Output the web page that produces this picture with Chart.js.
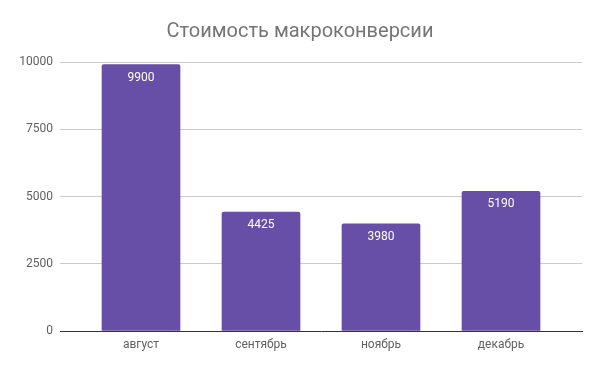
<!DOCTYPE html>
<html>
<head>
<meta charset="utf-8">
<script src="https://cdn.jsdelivr.net/npm/chart.js@4"></script>
<style>
    html, body { margin: 0; padding: 0; background: #ffffff; }
    #wrap { width: 600px; height: 371px; }
</style>
</head>
<body>
<div id="wrap"><canvas id="chart"></canvas></div>
<script>
/* ===========================
   DATA
=========================== */

const months = ["август", "сентябрь", "ноябрь", "декабрь"];
const costs = [9900, 4425, 3980, 5190];
const yTicks = [0, 2500, 5000, 7500, 10000];

/* ===========================
   VALUE LABELS INSIDE BARS
=========================== */

const barLabels = {
    id: "barLabels",
    afterDatasetsDraw(chart) {
        const ctx = chart.ctx;
        const meta = chart.getDatasetMeta(0);
        ctx.save();
        ctx.font = "12px Roboto";
        ctx.fillStyle = "#ffffff";
        ctx.textAlign = "center";
        ctx.textBaseline = "middle";
        meta.data.forEach((bar, i) => {
            ctx.fillText(String(costs[i]), bar.x, bar.y + 13);
        });
        ctx.restore();
    }
};

/* ===========================
   CHART
=========================== */

new Chart(document.getElementById("chart"), {
    type: "bar",
    data: {
        datasets: [
            {
                label: "Стоимость",
                data: costs.map((v, i) => ({ x: i, y: v })),
                backgroundColor: "#674ea7",
                borderRadius: { topLeft: 2, topRight: 2 },
                borderSkipped: "bottom",
                barThickness: 78
            }
        ]
    },
    options: {
        responsive: true,
        maintainAspectRatio: false,
        animation: false,
        layout: {
            padding: 0
        },
        plugins: {
            legend: { display: false },
            tooltip: { enabled: false },
            title: {
                display: true,
                text: "Стоимость макроконверсии",
                color: "#757575",
                font: { family: "Roboto", size: 20, weight: "normal" },
                padding: { top: 20, bottom: 18 }
            }
        },
        scales: {
            x: {
                type: "linear",
                offset: false,
                min: -0.675,
                max: 3.675,
                grid: { display: false, drawTicks: false },
                border: { display: true, color: "#333333", width: 1 },
                afterBuildTicks(scale) {
                    scale.ticks = months.map((_, i) => ({ value: i }));
                },
                afterFit(scale) {
                    scale.height = 40;
                },
                ticks: {
                    autoSkip: false,
                    maxRotation: 0,
                    padding: 7,
                    color: "#616161",
                    font: { family: "Roboto", size: 12 },
                    callback: (value) => months[value]
                }
            },
            y: {
                min: 0,
                max: 10000,
                afterBuildTicks(scale) {
                    scale.ticks = yTicks.map((v) => ({ value: v }));
                },
                afterFit(scale) {
                    scale.width = 60;
                },
                grid: {
                    drawTicks: false,
                    color: (c) => (c.tick && c.tick.value === 0 ? "rgba(0,0,0,0)" : "#cccccc")
                },
                border: { display: false },
                ticks: {
                    padding: 7,
                    color: "#616161",
                    font: { family: "Roboto", size: 12 },
                    callback: (value) => String(value)
                }
            },
            yRight: {
                position: "right",
                grid: { display: false, drawTicks: false },
                border: { display: false },
                ticks: { display: false },
                afterFit(scale) {
                    scale.width = 18;
                }
            }
        }
    },
    plugins: [barLabels]
});
</script>
</body>
</html>
